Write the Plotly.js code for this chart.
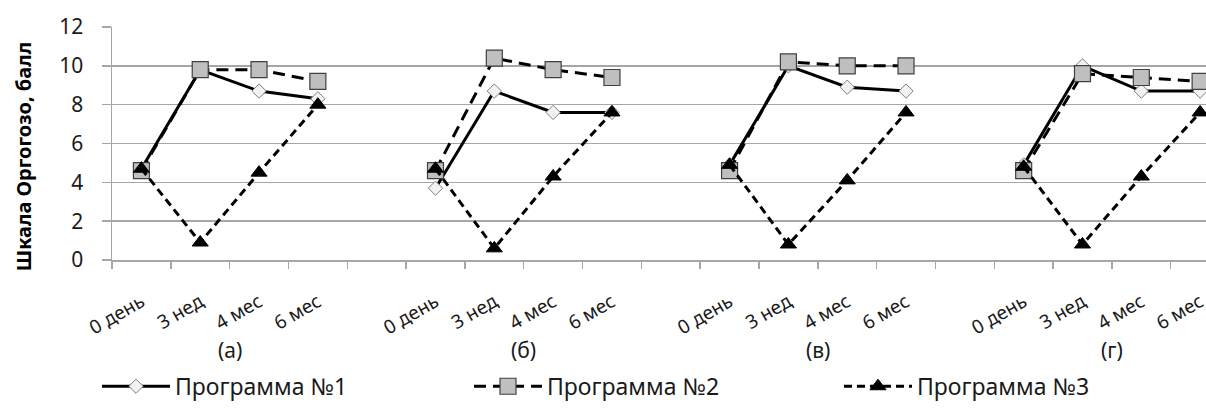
<!DOCTYPE html>
<html><head><meta charset="utf-8">
<script src="https://cdn.plot.ly/plotly-3.0.1.min.js"></script>
<style>html,body{margin:0;padding:0;background:#fff}#chart{width:1206px;height:408px}</style>
</head><body><div id="chart"></div>
<script>
// ---- data ----
const periods = ["0 день", "3 нед", "4 мес", "6 мес"];
const groupLabels = ["(а)", "(б)", "(в)", "(г)"];
const seriesNames = ["Программа №1", "Программа №2", "Программа №3"];
const yTitle = "Шкала Оргогозо, балл";
// values per group (а), (б), (в), (г)
const prog1 = [[4.7, 9.8, 8.7, 8.3], [3.7, 8.7, 7.6, 7.6], [4.9, 10.0, 8.9, 8.7], [4.9, 10.0, 8.7, 8.7]];
const prog2 = [[4.6, 9.8, 9.8, 9.2], [4.6, 10.4, 9.8, 9.4], [4.6, 10.2, 10.0, 10.0], [4.6, 9.6, 9.4, 9.2]];
const prog3 = [[4.7, 0.9, 4.5, 8.0], [4.7, 0.6, 4.3, 7.6], [4.9, 0.8, 4.1, 7.6], [4.8, 0.8, 4.3, 7.6]];
const yTicks = [0, 2, 4, 6, 8, 10, 12];

// ---- layout helpers ----
const STEP = periods.length + 1; // one empty slot between groups
function build(vals) {
  const x = [], y = [];
  vals.forEach((g, gi) => {
    g.forEach((v, pi) => { x.push(gi * STEP + pi); y.push(v); });
    if (gi < vals.length - 1) { x.push(gi * STEP + periods.length); y.push(null); }
  });
  return { x, y };
}
const tickvals = [], ticktext = [];
groupLabels.forEach((g, gi) => periods.forEach((p, pi) => { tickvals.push(gi * STEP + pi); ticktext.push(p); }));

const FONT = "Noto Sans, Open Sans, sans-serif";
const d1 = build(prog1), d2 = build(prog2), d3 = build(prog3);
const traces = [
  { x: d1.x, y: d1.y, name: seriesNames[0], type: "scatter", mode: "lines+markers", legend: "legend",
    line: { color: "#000", width: 3 },
    marker: { symbol: "diamond", size: 11, color: "#f2f2f2", line: { color: "#7f7f7f", width: 1 } } },
  { x: d2.x, y: d2.y, name: seriesNames[1], type: "scatter", mode: "lines+markers", legend: "legend2",
    line: { color: "#000", width: 3, dash: "12px,7px" },
    marker: { symbol: "square", size: 16, color: "#bfbfbf", line: { color: "#404040", width: 1.2 } } },
  { x: d3.x, y: d3.y, name: seriesNames[2], type: "scatter", mode: "lines+markers", legend: "legend3",
    line: { color: "#000", width: 3, dash: "8px,5px" },
    marker: { symbol: "triangle-up", size: 14, color: "#000", line: { color: "#000", width: 1 } } }
];

const plotH = 408 - 27 - 143;
const py = px => (265 - px) / plotH; // pixel row -> paper y
const pxx = px => (px - 112) / (1206 - 112);

const legendBase = { orientation: "h", yanchor: "middle", xanchor: "left", y: py(394),
  font: { family: FONT, size: 23, color: "#1a1a1a" }, bgcolor: "rgba(0,0,0,0)", itemwidth: 68, tracegroupgap: 0 };

const layout = {
  width: 1206, height: 408,
  margin: { l: 112, r: 0, t: 27, b: 143 },
  paper_bgcolor: "#fff", plot_bgcolor: "#fff",
  showlegend: true,
  font: { family: FONT, color: "#1a1a1a" },
  xaxis: {
    type: "linear", range: [-0.5, 18.1],
    tickmode: "array", tickvals: tickvals, ticktext: ticktext, tickangle: -30,
    ticks: "", ticklabelstandoff: 22, ticklabeloverflow: "allow",
    tickfont: { family: FONT, size: 19, color: "#1a1a1a" },
    showgrid: false, zeroline: false,
    showline: true, linecolor: "#a6a6a6", linewidth: 1.5,
    minor: { tickmode: "linear", tick0: -0.5, dtick: 1, ticks: "outside", ticklen: 7, tickcolor: "#a6a6a6", tickwidth: 1.5, showgrid: false }
  },
  yaxis: {
    range: [0, 12], tickmode: "array", tickvals: yTicks,
    ticks: "outside", ticklen: 9, tickcolor: "#a6a6a6", tickwidth: 1.5, ticklabelstandoff: 14,
    tickfont: { family: FONT, size: 21, color: "#1a1a1a" },
    showgrid: true, gridcolor: "#a6a6a6", gridwidth: 1.5,
    zeroline: false, showline: true, linecolor: "#a6a6a6", linewidth: 1.5
  },
  legend: Object.assign({}, legendBase, { x: pxx(97) }),
  legend2: Object.assign({}, legendBase, { x: pxx(469) }),
  legend3: Object.assign({}, legendBase, { x: pxx(839) }),
  annotations: groupLabels.map((g, gi) => ({
    text: g, xref: "x", yref: "paper", x: gi * STEP + (periods.length - 1) / 2, y: py(357),
    xanchor: "center", yanchor: "middle", showarrow: false,
    font: { family: FONT, size: 21, color: "#1a1a1a" }
  })).concat([{
    text: yTitle, xref: "paper", yref: "paper", x: pxx(23), y: py(160),
    xanchor: "center", yanchor: "middle", textangle: -90, showarrow: false,
    font: { family: FONT, size: 20, color: "#000", weight: "bold" }
  }])
};

Plotly.newPlot("chart", traces, layout, { staticPlot: true, displayModeBar: false });
</script>
</body></html>
